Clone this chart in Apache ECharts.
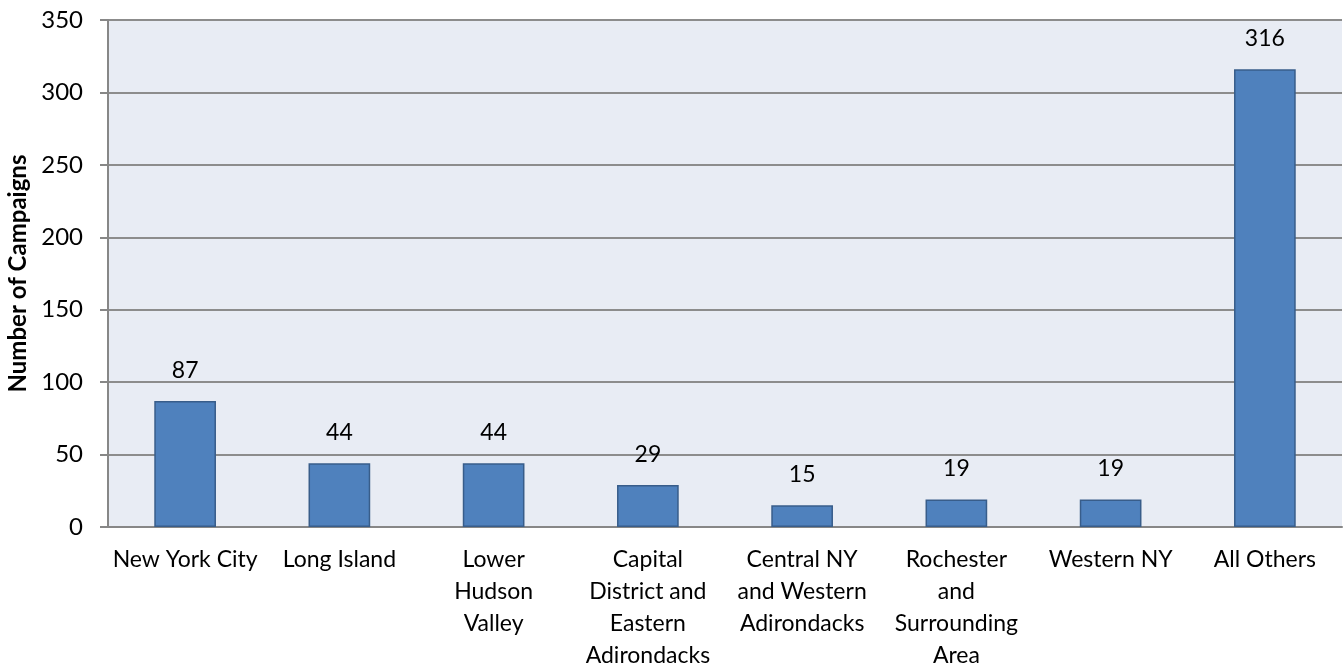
<!DOCTYPE html>
<html><head><meta charset="utf-8">
<script src="https://cdn.jsdelivr.net/npm/echarts@6/dist/echarts.min.js"></script>
<style>html,body{margin:0;padding:0;background:#fff}#c{width:1343px;height:670px}</style>
</head><body><div id="c"></div>
<script>
const categories = ["New York City", "Long Island", "Lower\nHudson\nValley", "Capital\nDistrict and\nEastern\nAdirondacks", "Central NY\nand Western\nAdirondacks", "Rochester\nand\nSurrounding\nArea", "Western NY", "All Others"];
const campaigns = [87, 44, 44, 29, 15, 19, 19, 316];
const yTicks = { min: 0, max: 350, interval: 50 };
const yName = "Number of Campaigns";

const FONT = "Lato";
const chart = echarts.init(document.getElementById('c'), null, { renderer: 'canvas' });
chart.setOption({
  animation: false,
  grid: { left: 108, right: 1, top: 20, bottom: 143, show: true, backgroundColor: '#E8ECF4', borderWidth: 0, containLabel: false, outerBoundsMode: 'none' },
  xAxis: {
    type: 'category', data: categories,
    axisLine: { lineStyle: { color: '#878787', width: 2 } },
    axisTick: { show: false },
    axisLabel: { color: '#000', fontFamily: FONT, fontSize: 23, lineHeight: 32, margin: 17, interval: 0, hideOverlap: false }
  },
  yAxis: {
    type: 'value', min: yTicks.min, max: yTicks.max, interval: yTicks.interval,
    name: yName, nameLocation: 'middle', nameGap: 78, nameRotate: 90,
    nameTextStyle: { color: '#000', fontFamily: FONT, fontWeight: 'bold', fontSize: 24 },
    axisLine: { show: true, lineStyle: { color: '#878787', width: 2 } },
    axisTick: { show: true, length: 8, lineStyle: { color: '#878787', width: 2 } },
    splitLine: { lineStyle: { color: '#8C8C8C', width: 2 } },
    axisLabel: { color: '#000', fontFamily: FONT, fontSize: 24, margin: 25 }
  },
  series: [{
    type: 'bar', data: campaigns, barWidth: '40%',
    itemStyle: { color: '#4F81BD', borderColor: '#385D8A', borderWidth: 1.5 },
    label: { show: true, position: 'top', distance: 19, color: '#000', fontFamily: FONT, fontSize: 23 }
  }]
});
</script></body></html>
